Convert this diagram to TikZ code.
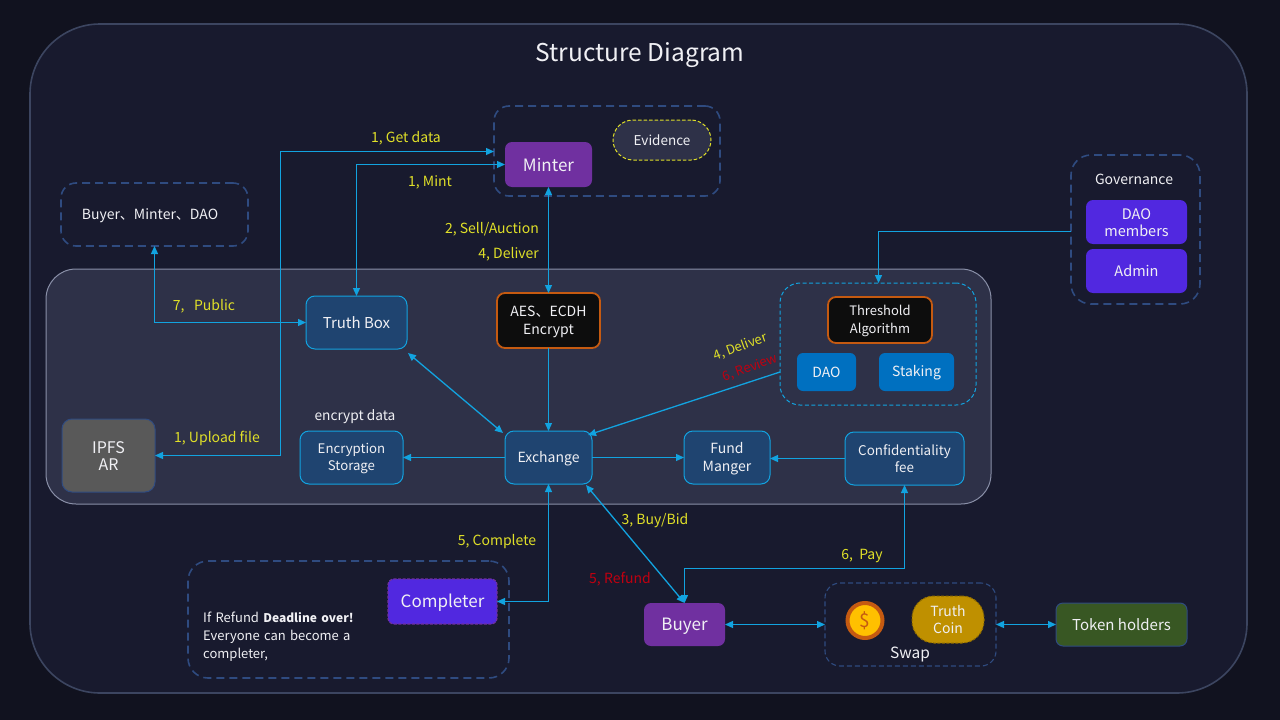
\documentclass[tikz,border=0pt]{standalone}
\usepackage{fontspec}
\setmainfont{Noto Sans CJK SC}
\usetikzlibrary{arrows.meta,calc}
\definecolor{bgout}{HTML}{11121F}
\definecolor{panel}{HTML}{181A2E}
\definecolor{midp}{HTML}{2E3148}
\definecolor{edgeo}{HTML}{3C4560}
\definecolor{edgem}{HTML}{8A90A8}
\definecolor{dashb}{HTML}{2F4B80}
\definecolor{conn}{HTML}{12A3E0}
\definecolor{boxb}{HTML}{1F4470}
\definecolor{purp}{HTML}{7030A0}
\definecolor{viol}{HTML}{5128E0}
\definecolor{azure}{HTML}{0070C0}
\definecolor{orng}{HTML}{C55A11}
\definecolor{lbly}{HTML}{E0E028}
\definecolor{lblr}{HTML}{C00010}
\definecolor{gold}{HTML}{BF9000}
\definecolor{leaf}{HTML}{385723}
\definecolor{coinf}{HTML}{FFC000}
\definecolor{txt}{HTML}{F0F0F4}
\newcommand{\fs}[1]{\fontsize{#1}{17.5}\selectfont}
\newcommand{\lb}[1]{\rule{0pt}{.95em}#1\rule[-.15em]{0pt}{.15em}}
\newcommand{\bxn}[7]{\node[base,#6,minimum width={(#4)-(#2)},minimum height={(#5)-(#3)}] (#1) at ({((#2)+(#4))/2},{((#3)+(#5))/2}) {\lb{#7}};}
\tikzset{
 base/.style={inner sep=0pt,outer sep=0pt,align=center,text=txt,rounded corners=7pt,font=\fs{14}},
 group/.style={draw=dashb,line width=1.6pt,dash pattern=on 8pt off 5pt,rounded corners=15pt},
 blue/.style={draw=conn,fill=boxb,line width=1pt,rounded corners=9pt},
 blackb/.style={draw=orng,fill=black!95,line width=1.8pt,rounded corners=8pt},
 azb/.style={fill=azure,rounded corners=6pt},
 vio/.style={fill=viol,rounded corners=7pt},
 arr/.style={draw=conn,line width=1.3pt,{Triangle[length=8pt,width=7pt]}-{Triangle[length=8pt,width=7pt]}},
 arrone/.style={draw=conn,line width=1.3pt,-{Triangle[length=8pt,width=7pt]}},
 yl/.style={text=lbly,font=\fs{14},inner sep=0pt},
 rl/.style={text=lblr,font=\fs{14},inner sep=0pt},
 wl/.style={text=txt,font=\fs{14},inner sep=0pt},
 x=1pt,y=-1pt
}
\begin{document}
\begin{tikzpicture}
\useasboundingbox (0,0) rectangle (1280,720);
\fill[bgout] (0,0) rectangle (1280,720);
\draw[draw=edgeo,fill=panel,line width=1.6pt,rounded corners=70pt] (30,24) rectangle (1247,693);
\draw[draw=edgem,fill=midp,line width=1pt,rounded corners=30pt] (46,269) rectangle (991,504);
\node[wl,font=\fs{24.5}] (title) at (640,53) {\lb{Structure Diagram}};

\bxn{mgroup}{494}{106}{720}{196}{group}{}
\bxn{bgroup}{61}{183}{248}{246}{group}{}
\bxn{ggroup}{1071}{155}{1200}{304}{group,rounded corners=20pt}{}
\bxn{cgroup}{188}{561}{509}{678}{group,rounded corners=20pt}{}
\bxn{tgroup}{780}{283}{976}{405}{draw=conn,line width=1pt,dash pattern=on 4pt off 2.5pt,rounded corners=20pt}{}
\bxn{sgroup}{825}{583}{996}{666}{draw=dashb,line width=1.1pt,dash pattern=on 5pt off 3pt,rounded corners=15pt}{}

\bxn{minter}{505}{142}{592}{187}{fill=purp,font=\fs{17}}{Minter}
\bxn{evid}{613}{120}{711}{160}{draw=lbly,fill=midp,line width=1pt,dash pattern=on 3.5pt off 2pt,rounded corners=20pt,font=\fs{13.5}}{Evidence}
\node[wl] (blab) at (150,214) {\lb{Buyer、Minter、DAO}};
\bxn{tb}{306}{296}{407}{349}{blue,font=\fs{15}}{Truth Box}
\bxn{aes}{497}{293}{600}{348}{blackb}{AES、ECDH\\Encrypt}
\bxn{thr}{828}{297}{932}{343}{blackb,font=\fs{13}}{Threshold\\Algorithm}
\bxn{dao}{797}{353}{856}{391}{azb}{DAO}
\bxn{stk}{879}{353}{954}{391}{azb}{Staking}
\node[wl] (gov) at (1134,179) {\lb{Governance}};
\bxn{daom}{1086}{200}{1187}{244}{vio,font=\fs{14.5}}{DAO\\members}
\bxn{adm}{1086}{249}{1187}{293}{vio,font=\fs{14.5}}{Admin}
\bxn{ipfs}{62}{419}{155}{492}{draw=dashb,fill=black!65,line width=1pt,rounded corners=10pt,font=\fs{16}}{IPFS\\AR}
\bxn{enc}{300}{431}{403}{484}{blue,font=\fs{13.2}}{Encryption\\Storage}
\bxn{exc}{505}{431}{592}{484}{blue}{Exchange}
\bxn{fund}{684}{431}{770}{484}{blue}{Fund\\Manger}
\bxn{conf}{845}{432}{964}{485}{blue,font=\fs{13.4}}{Confidentiality\\fee}
\bxn{comp}{388}{579}{497}{624}{draw=purp,fill=viol,line width=1.2pt,dash pattern=on 3pt off 1.5pt,rounded corners=6pt,font=\fs{17}}{Completer}
\bxn{buyer}{644}{603}{725}{646}{fill=purp,font=\fs{17}}{Buyer}
\bxn{tcoin}{912}{596}{984}{643}{draw=gold!75!black,fill=gold,line width=1pt,dash pattern=on 3pt off 1.5pt,rounded corners=22pt}{Truth\\Coin}
\bxn{token}{1056}{603}{1187}{646}{draw=dashb,fill=leaf,line width=1pt,font=\fs{15}}{Token holders}
\node[circle,draw=orng,fill=coinf,line width=4pt,minimum size=35pt,inner sep=0pt,text=orng,font=\fs{19}] (coin) at (865,620.5) {\$};
\node[wl,font=\fs{15.5}] (swap) at (910,653) {\lb{Swap}};
\node[wl,font=\fs{13.7}] (edata) at (355,416) {\lb{encrypt data}};
\node[wl,anchor=north west,align=left,font=\fs{13},text width=170pt] (ctext) at (203,612) {If Refund {\fs{12}\bfseries Deadline over!}\\[.5pt]Everyone can become a\\[.5pt]completer,};

% connectors
\coordinate (gd) at (280.5,151.5);
\draw[arr] (ipfs.east) -| (gd) -- (mgroup.west |- gd);
\draw[arr] (tb.north) |- (minter.west);
\draw[arr] (minter.south) -- (minter.south |- aes.north);
\draw[arrone] (aes.south) -- (aes.south |- exc.north);
\draw[arr] ($(tb.south east)+(1,4)$) -- ($(exc.north west)+(-2,2)$);
\draw[arrone] (tgroup.west |- dao.center) -- ($(exc.north east)+(-4,4)$);
\draw[arrone] (exc.west) -- (exc.west -| enc.east);
\draw[arrone] (exc.east) -- (exc.east -| fund.west);
\draw[arrone] (conf.west) -- (conf.west -| fund.east);
\draw[arr] (exc.south) |- (comp.east);
\draw[arr] ($(exc.south east)+(-6,1)$) -- (buyer.north);
\coordinate (py) at (684.5,568.5);
\draw[arr] (conf.south) |- (py) -- (buyer.north);
\draw[arr] (buyer.east) -- (sgroup.west |- buyer.east);
\draw[arr] (sgroup.east |- token.west) -- (token.west);
\coordinate (gt) at (878.5,231.5);
\draw[arrone] (ggroup.west |- gt) -- (gt) -- (gt |- tgroup.north);
\draw[arr] (bgroup.south) |- (tb.west);

% labels
\node[yl] (l1) at (406,137) {\lb{1, Get data}};
\node[yl] (l2) at (430,181) {\lb{1, Mint}};
\node[yl,anchor=east] (l3) at (539,228) {\lb{2, Sell/Auction}};
\node[yl,anchor=east] (l4) at (539,253) {\lb{4, Deliver}};
\node[yl] (l5) at (204,305) {\lb{7,\ \ \ Public}};
\node[yl] (l6) at (217,437) {\lb{1, Upload file}};
\node[yl] (l7) at (497,540) {\lb{5, Complete}};
\node[yl] (l8) at (655,519) {\lb{3, Buy/Bid}};
\node[rl] (l9) at (620,578) {\lb{5, Refund}};
\node[yl] (l10) at (862,554) {\lb{6,\ \ Pay}};
\node[yl,rotate=20,font=\fs{13}] (l11) at (740,346) {\lb{4, Deliver}};
\node[rl,rotate=20,font=\fs{13}] (l12) at (750,367) {\lb{6, Review}};
\end{tikzpicture}
\end{document}
